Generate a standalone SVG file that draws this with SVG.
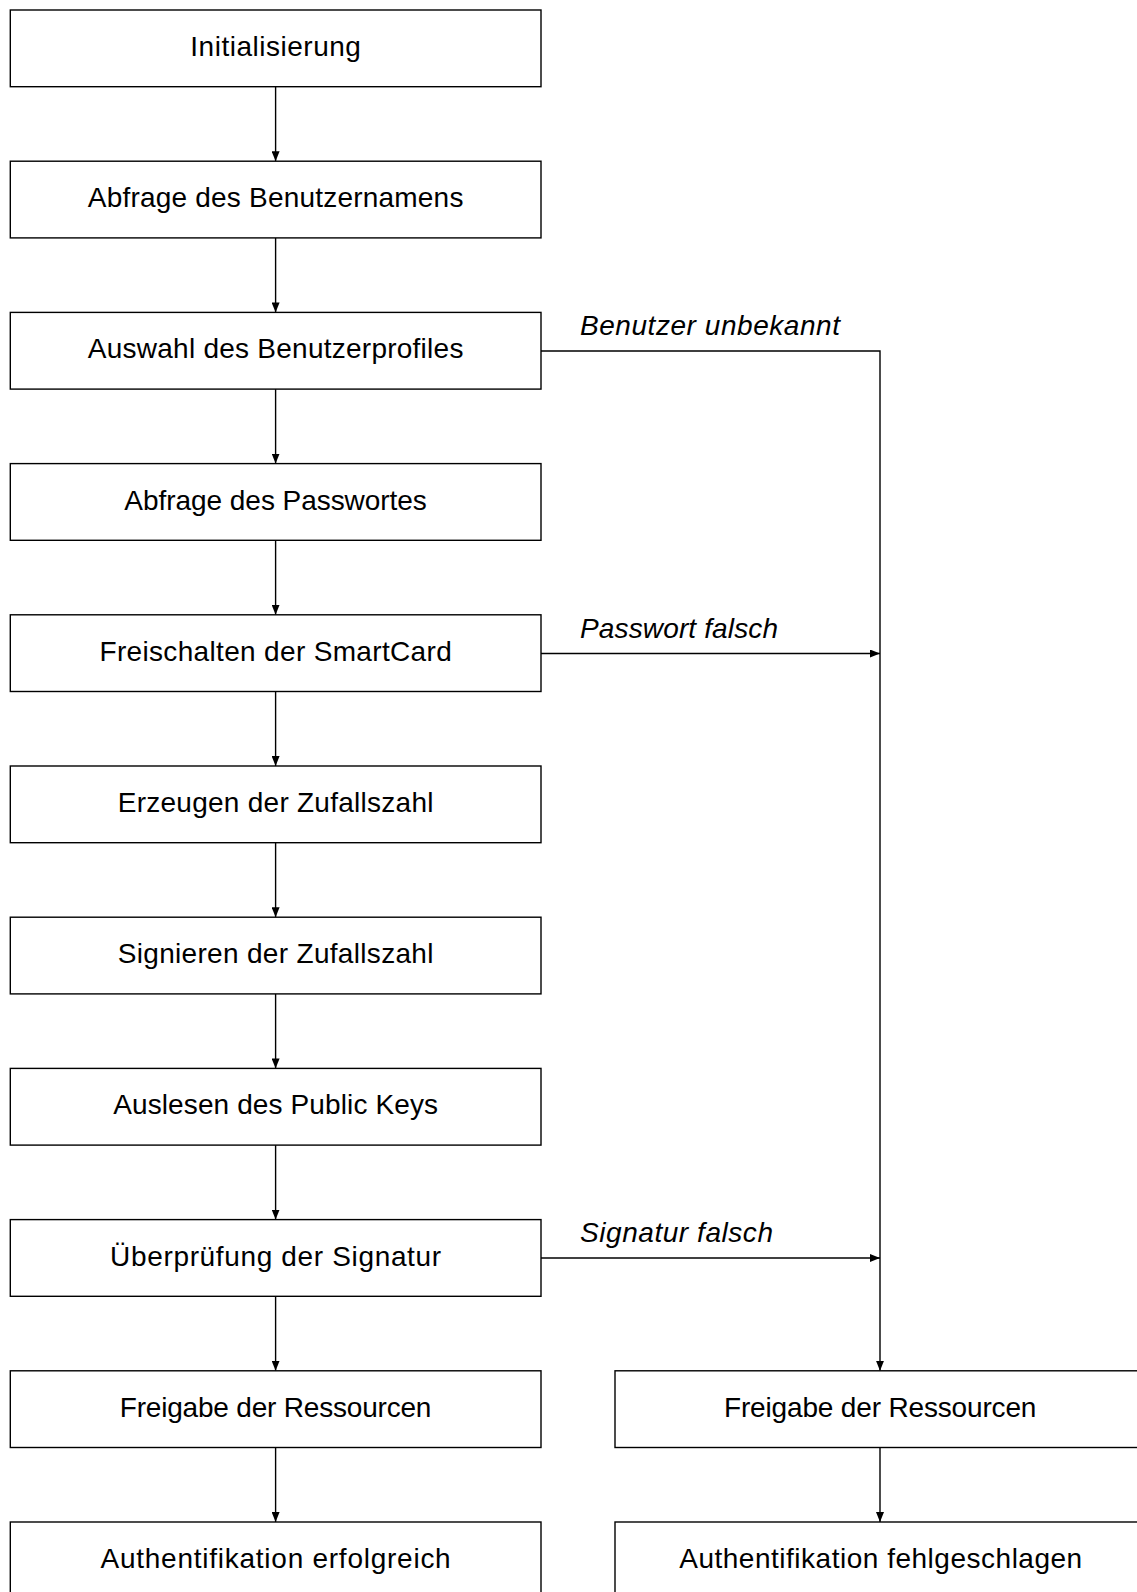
<svg xmlns="http://www.w3.org/2000/svg" width="1137" height="1592" viewBox="0 0 1137 1592">
<style>
.box{fill:#fff;stroke:#000;stroke-width:1.4}
.t{font-family:"Liberation Sans",Arial,sans-serif;font-size:28px;text-anchor:middle;fill:#000}
.lbl{font-family:"Liberation Sans",Arial,sans-serif;font-size:28px;font-style:italic;fill:#000}
.c{fill:none;stroke:#000;stroke-width:1.4}
</style>
<defs>
<marker id="ah" viewBox="0 0 10 8" refX="10" refY="4" markerWidth="10" markerHeight="8" markerUnits="userSpaceOnUse" orient="auto">
<path d="M0,0 L10,4 L0,8 Z" fill="#000"/>
</marker>
</defs>
<rect width="1137" height="1592" fill="#fff"/>
<g id="connectors">
<line class="c" x1="275.6" y1="86.7" x2="275.6" y2="161.2" marker-end="url(#ah)"/>
<line class="c" x1="275.6" y1="237.9" x2="275.6" y2="312.4" marker-end="url(#ah)"/>
<line class="c" x1="275.6" y1="389.1" x2="275.6" y2="463.6" marker-end="url(#ah)"/>
<line class="c" x1="275.6" y1="540.3" x2="275.6" y2="614.8" marker-end="url(#ah)"/>
<line class="c" x1="275.6" y1="691.5" x2="275.6" y2="766" marker-end="url(#ah)"/>
<line class="c" x1="275.6" y1="842.7" x2="275.6" y2="917.2" marker-end="url(#ah)"/>
<line class="c" x1="275.6" y1="993.9" x2="275.6" y2="1068.4" marker-end="url(#ah)"/>
<line class="c" x1="275.6" y1="1145.1" x2="275.6" y2="1219.6" marker-end="url(#ah)"/>
<line class="c" x1="275.6" y1="1296.3" x2="275.6" y2="1370.8" marker-end="url(#ah)"/>
<line class="c" x1="275.6" y1="1447.5" x2="275.6" y2="1522" marker-end="url(#ah)"/>
<polyline class="c" points="541,351 880,351 880,1370.8" marker-end="url(#ah)"/>
<line class="c" x1="541" y1="653.5" x2="880" y2="653.5" marker-end="url(#ah)"/>
<line class="c" x1="541" y1="1258" x2="880" y2="1258" marker-end="url(#ah)"/>
<line class="c" x1="880" y1="1447.5" x2="880" y2="1522" marker-end="url(#ah)"/>
<text class="lbl" x="580" y="335" textLength="260">Benutzer unbekannt</text>
<text class="lbl" x="580" y="637.5" textLength="198">Passwort falsch</text>
<text class="lbl" x="580" y="1242" textLength="193">Signatur falsch</text>
</g>
<g id="n1"><rect class="box" x="10.3" y="10" width="530.7" height="76.7"/><text class="t" x="275.6" y="56" textLength="170.6">Initialisierung</text></g>
<g id="n2"><rect class="box" x="10.3" y="161.2" width="530.7" height="76.7"/><text class="t" x="275.6" y="207.2" textLength="375.6">Abfrage des Benutzernamens</text></g>
<g id="n3"><rect class="box" x="10.3" y="312.4" width="530.7" height="76.7"/><text class="t" x="275.6" y="358.4" textLength="375.6">Auswahl des Benutzerprofiles</text></g>
<g id="n4"><rect class="box" x="10.3" y="463.6" width="530.7" height="76.7"/><text class="t" x="275.6" y="509.6" textLength="302.5">Abfrage des Passwortes</text></g>
<g id="n5"><rect class="box" x="10.3" y="614.8" width="530.7" height="76.7"/><text class="t" x="275.6" y="660.8" textLength="352.3">Freischalten der SmartCard</text></g>
<g id="n6"><rect class="box" x="10.3" y="766" width="530.7" height="76.7"/><text class="t" x="275.6" y="812" textLength="315.7">Erzeugen der Zufallszahl</text></g>
<g id="n7"><rect class="box" x="10.3" y="917.2" width="530.7" height="76.7"/><text class="t" x="275.6" y="963.2" textLength="315.7">Signieren der Zufallszahl</text></g>
<g id="n8"><rect class="box" x="10.3" y="1068.4" width="530.7" height="76.7"/><text class="t" x="275.6" y="1114.4" textLength="324.9">Auslesen des Public Keys</text></g>
<g id="n9"><rect class="box" x="10.3" y="1219.6" width="530.7" height="76.7"/><text class="t" x="275.6" y="1265.6" textLength="331">Überprüfung der Signatur</text></g>
<g id="n10"><rect class="box" x="10.3" y="1370.8" width="530.7" height="76.7"/><text class="t" x="275.6" y="1416.8" textLength="311.7">Freigabe der Ressourcen</text></g>
<g id="n11"><rect class="box" x="10.3" y="1522" width="530.7" height="76.7"/><text class="t" x="275.6" y="1568" textLength="350.2">Authentifikation erfolgreich</text></g>
<g id="n12"><rect class="box" x="615" y="1370.8" width="531" height="76.7"/><text class="t" x="880.2" y="1416.8" textLength="312.5">Freigabe der Ressourcen</text></g>
<g id="n13"><rect class="box" x="615" y="1522" width="531" height="76.7"/><text class="t" x="880.7" y="1568" textLength="403">Authentifikation fehlgeschlagen</text></g>
</svg>
